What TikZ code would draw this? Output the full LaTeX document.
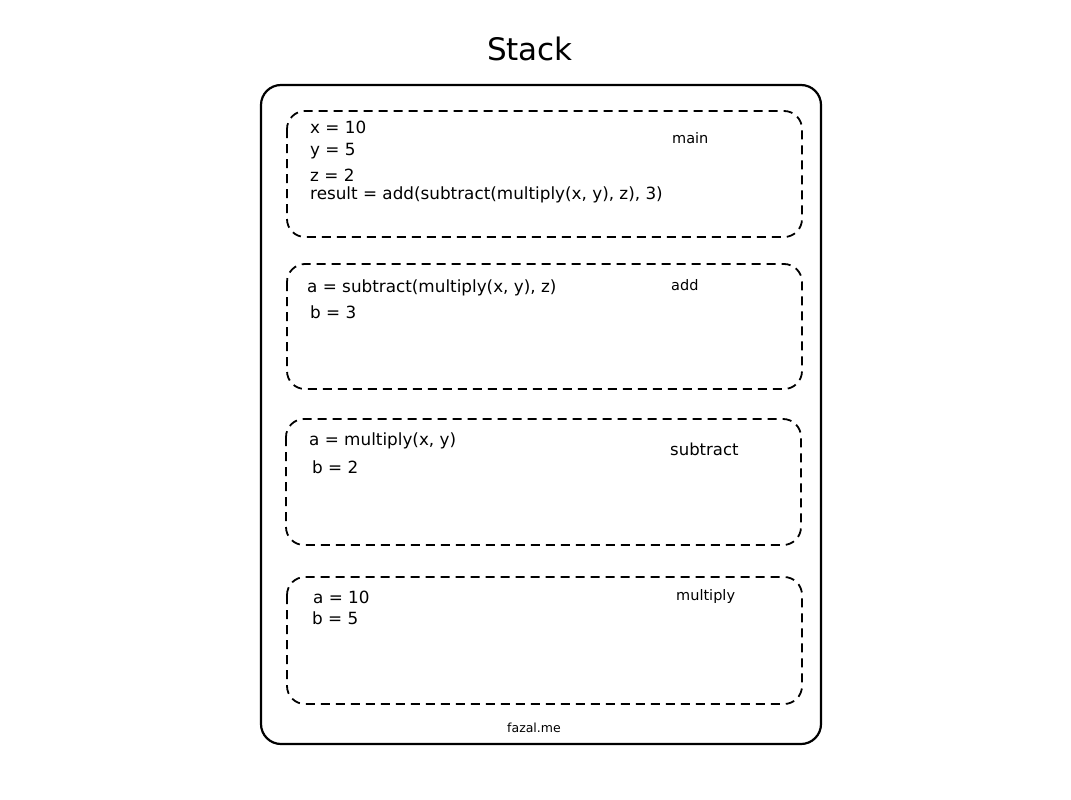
\documentclass[tikz,border=0pt]{standalone}
\usepackage{fontspec}
\setmainfont{DejaVu Sans}
\begin{document}
\begin{tikzpicture}[x=1pt,y=-1pt,
  outerbox/.style={draw=black,line width=2.2pt,rounded corners=20pt},
  framebox/.style={draw=black,line width=1.8pt,rounded corners=18pt,dash pattern=on 9pt off 6pt},
  code/.style={anchor=west,inner sep=0pt,font=\fontsize{16.8}{18}\selectfont},
  fname/.style={anchor=west,inner sep=0pt,font=\fontsize{14.5}{17}\selectfont}]
\useasboundingbox (0,0) rectangle (1071,800);
\node[inner sep=0pt,font=\fontsize{31}{34}\selectfont] (title) at (530,49) {Stack};
\draw[outerbox] (261,85) rectangle (821,744);
\draw[framebox] (287,111) rectangle (802,237);
\draw[framebox] (287,264) rectangle (802,389);
\draw[framebox] (286,419) rectangle (801,545);
\draw[framebox] (287,577) rectangle (802,704);
% main
\node[code] (m1) at (310,127) {x = 10};
\node[code] (m2) at (310,151) {y = 5};
\node[code] (m3) at (310,175) {z = 2};
\node[code] (m4) at (310,195) {result = add(subtract(multiply(x, y), z), 3)};
\node[fname] (lmain) at (672,138) {main};
% add
\node[code] (a1) at (307,288) {a = subtract(multiply(x, y), z)};
\node[code] (a2) at (310,312) {b = 3};
\node[fname] (ladd) at (671,285) {add};
% subtract
\node[code] (s1) at (309,441) {a = multiply(x, y)};
\node[code] (s2) at (312,467) {b = 2};
\node[fname,font=\fontsize{16.5}{18}\selectfont] (lsub) at (670,449) {subtract};
% multiply
\node[code] (u1) at (313,597) {a = 10};
\node[code] (u2) at (312,618) {b = 5};
\node[fname] (lmul) at (676,596) {multiply};
\node[inner sep=0pt,font=\fontsize{12.5}{14}\selectfont] (foot) at (534,728) {fazal.me};
\end{tikzpicture}
\end{document}
